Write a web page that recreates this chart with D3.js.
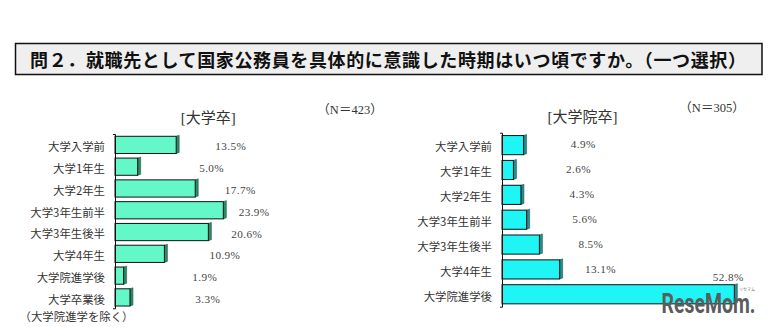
<!DOCTYPE html>
<html><head><meta charset="utf-8">
<script src="https://cdn.jsdelivr.net/npm/d3@7"></script>
<style>
html,body{margin:0;padding:0;background:#fff;}
svg{display:block;}
</style></head>
<body>
<svg id="c" width="771" height="327"></svg>
<script>
// ---- data ----
const titleText = "問２．就職先として国家公務員を具体的に意識した時期はいつ頃ですか。（一つ選択）";
const univTitle = "[大学卒]";
const univN = "（N＝423）";
const univCategories = ["大学入学前","大学1年生","大学2年生","大学3年生前半","大学3年生後半","大学4年生","大学院進学後","大学卒業後\n（大学院進学を除く）"];
const univValues = [13.5, 5.0, 17.7, 23.9, 20.6, 10.9, 1.9, 3.3];
const gradTitle = "[大学院卒]";
const gradN = "（N＝305）";
const gradCategories = ["大学入学前","大学1年生","大学2年生","大学3年生前半","大学3年生後半","大学4年生","大学院進学後"];
const gradValues = [4.9, 2.6, 4.3, 5.6, 8.5, 13.1, 52.8];

const svg = d3.select("#c");
const JP = "'Noto Sans CJK JP', sans-serif";
const SERIF = "'Liberation Serif', 'Noto Sans CJK JP', serif";

// ---- title box ----
svg.append("rect").attr("x",15.5).attr("y",43.5).attr("width",746.5).attr("height",31)
  .attr("fill","#efefef").attr("stroke","#111").attr("stroke-width",1.5);
svg.append("text").attr("x",30).attr("y",59).attr("dominant-baseline","central")
  .attr("font-family",JP).attr("font-weight","bold").attr("font-size",18)
  .attr("textLength",716).attr("lengthAdjust","spacing").attr("fill","#111")
  .text(titleText);

function drawPanel(cfg){
  const x = d3.scaleLinear().domain(cfg.xDomain).range(cfg.xRange);
  const y = d3.scaleBand().domain(cfg.categories).range(cfg.yRange)
    .paddingInner(cfg.pad).paddingOuter(cfg.pad/2);
  const lx = d3.scaleLinear().domain(cfg.labelDomain).range(cfg.labelRange);
  const data = cfg.categories.map((c,i)=>({c, v: cfg.values[i]}));
  const g = svg.append("g");

  // bars
  const bars = g.selectAll("g.bar").data(data).join("g").attr("class","bar");
  bars.append("polygon")
    .attr("points", d => {
      const xe = x(d.v), y0 = y(d.c), y1 = y(d.c)+y.bandwidth();
      return [[xe,y0],[xe+3,y0-1],[xe+3,y1-1],[xe,y1]].map(p=>p.join(",")).join(" ");
    })
    .attr("fill", cfg.side).attr("stroke", cfg.sideStroke).attr("stroke-width",0.6);
  bars.append("rect")
    .attr("x", x(0)).attr("y", d => y(d.c))
    .attr("width", d => x(d.v)-x(0)).attr("height", y.bandwidth())
    .attr("fill", cfg.fill).attr("stroke","#111").attr("stroke-width",1);

  // value labels
  bars.append("text")
    .attr("font-family", SERIF).attr("font-size", 11.2).attr("fill","#444")
    .attr("letter-spacing", 0.4)
    .attr("text-anchor","middle")
    .attr("x", d => d.v > cfg.labelDomain[1] ? x(d.v)-6 : lx(d.v))
    .attr("y", d => d.v > cfg.labelDomain[1] ? y(d.c)-3.5 : y(d.c)+y.bandwidth()/2+cfg.valDy)
    .text(d => d.v.toFixed(1) + "%");

  // axis
  const ax = g.append("g").attr("transform",`translate(${x(0)},0)`)
    .call(d3.axisLeft(y).tickSizeInner(0).tickSizeOuter(2).tickPadding(10));
  ax.select(".domain").attr("stroke","#111");
  ax.selectAll(".tick text").attr("font-family",JP).attr("font-size",11.4)
    .attr("fill","#333").attr("dy","0.55em");
  ax.selectAll(".tick text").each(function(d){
    if (d.indexOf("\n") >= 0) {
      const lines = d.split("\n");
      d3.select(this).text(lines[0]);
      const w = this.getComputedTextLength();
      d3.select(this.parentNode).append("text")
        .attr("font-family",JP).attr("font-size",11.4).attr("fill","#333")
        .attr("text-anchor","middle").attr("x", -10 - w/2).attr("y", 17.7)
        .attr("dy","0.55em").text(lines[1]);
    }
  });

  // headings
  svg.append("text").attr("x",cfg.titleX).attr("y",cfg.titleY).attr("dominant-baseline","central")
    .attr("text-anchor","middle").attr("font-family",SERIF).attr("font-size",15).attr("fill","#333")
    .text(cfg.title);
  svg.append("text").attr("x",cfg.nX).attr("y",cfg.nY).attr("dominant-baseline","central")
    .attr("text-anchor","middle").attr("font-family",SERIF).attr("font-size",12.5).attr("fill","#333")
    .text(cfg.n);
}

drawPanel({
  categories: univCategories, values: univValues,
  xDomain:[0,25], xRange:[115, 228.3], yRange:[134, 308.3], pad:0.21,
  labelDomain:[0,25], labelRange:[200.4, 256.6], valDy:5.5,
  fill:"#64f8c8", side:"#2e8a68", sideStroke:"#1e5a44",
  title: univTitle, titleX:208.3, titleY:118.3, n: univN, nX:350, nY:110
});
drawPanel({
  categories: gradCategories, values: gradValues,
  xDomain:[0,60], xRange:[502, 766], yRange:[132.7, 306.7], pad:0.23,
  labelDomain:[0,15], labelRange:[573, 604.5], valDy:3.1,
  fill:"#1ff5f5", side:"#2a8c8c", sideStroke:"#1a5c5c",
  title: gradTitle, titleX:582.5, titleY:116.7, n: gradN, nX:712, nY:107.7
});

// watermark
svg.append("text").attr("x",661.5).attr("y",313)
  .attr("font-family","'Liberation Sans Narrow','Roboto','Liberation Sans',sans-serif")
  .attr("font-weight","bold").attr("font-size",27).attr("fill","#5c5c5c")
  .attr("textLength",94).attr("lengthAdjust","spacingAndGlyphs").text("ReseMom.");
svg.append("text").attr("x",739).attr("y",291).attr("font-family",JP).attr("font-size",4)
  .attr("fill","#777").text("リセマム");
</script>
</body></html>
